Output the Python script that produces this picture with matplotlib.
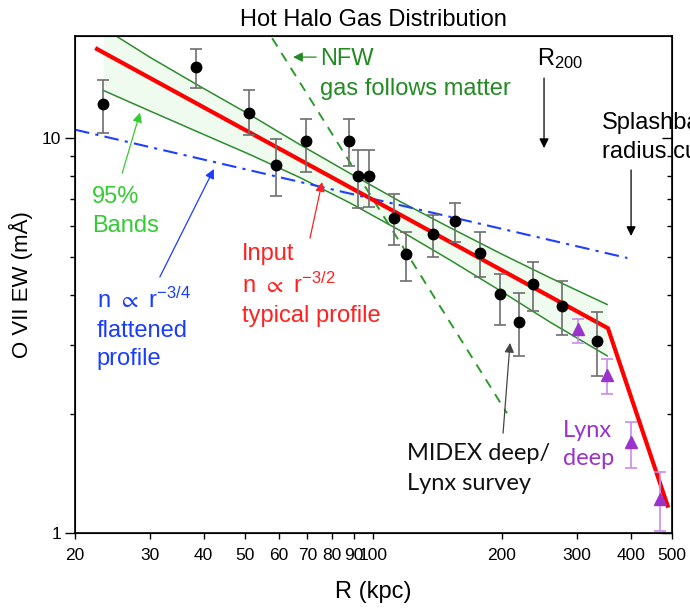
import matplotlib.pyplot as plt
from matplotlib.ticker import FixedLocator, NullFormatter, NullLocator

plt.rcParams['font.family'] = ['Liberation Sans', 'DejaVu Sans']
plt.rcParams['mathtext.fontset'] = 'custom'
plt.rcParams['mathtext.rm'] = 'Liberation Sans'
plt.rcParams['mathtext.default'] = 'regular'
plt.rcParams['mathtext.fallback'] = 'stixsans'

# black points (MIDEX deep / Lynx survey), R in kpc, EW in mA
obs_r  = [23.3, 38.4, 51.1, 59.1, 69.5, 87.6, 92.0, 97.6, 111.7, 119.2,
          137.9, 155.2, 177.7, 197.8, 219.0, 236.4, 276.4, 333.9]
obs_ew = [12.2, 15.1, 11.6, 8.54, 9.83, 9.83, 8.01, 8.01, 6.27, 5.09,
          5.71, 6.17, 5.12, 4.03, 3.42, 4.27, 3.76, 3.06]
obs_hi = [14.0, 16.8, 13.2, 9.94, 11.2, 11.2, 9.32, 9.32, 7.21, 5.78,
          6.38, 6.84, 5.78, 4.53, 4.05, 4.86, 4.35, 3.63]
obs_lo = [10.3, 13.4, 10.2, 7.13, 8.20, 8.49, 6.65, 6.69, 5.36, 4.35,
          5.00, 5.45, 4.45, 3.36, 2.81, 3.65, 3.17, 2.50]

# purple triangles (Lynx deep)
lynx_r  = [301, 352, 401, 469]
lynx_ew = [3.29, 2.51, 1.70, 1.22]
lynx_hi = [3.48, 2.76, 1.91, 1.43]
lynx_lo = [3.03, 2.25, 1.46, 1.01]

# input profile n ~ r^-3/2 with splashback cut
input_r  = [22.3, 354, 490]
input_ew = [16.9, 3.30, 1.16]

# 95% bands
band_r  = [23.3, 30.0, 39.3, 51.4, 67.3, 88.1, 115.4, 151.1, 197.8, 259.0, 352.4]
band_hi = [19.0, 16.0, 13.5, 11.45, 9.62, 8.14, 6.91, 5.93, 5.11, 4.43, 3.79]
band_lo = [13.2, 11.7, 10.3, 9.08, 7.94, 6.85, 5.83, 4.91, 4.11, 3.42, 2.81]

# flattened profile n ~ r^-3/4
flat_r  = [20, 393]
flat_ew = [10.5, 4.97]

# NFW, gas follows matter
nfw_r  = [57.9, 205.4]
nfw_ew = [17.9, 2.01]

xticks = [20, 30, 40, 50, 60, 70, 80, 90, 100, 200, 300, 400, 500]
yminor = [2, 3, 4, 5, 6, 7, 8, 9]

fig = plt.figure(figsize=(6.9, 6.11), dpi=100)
ax = fig.add_axes([0.1087, 0.1276, 0.8652, 0.8135])
ax.set_xscale('log')
ax.set_yscale('log')

ax.fill_between(band_r, band_lo, band_hi, color='#effbef', lw=0, zorder=1)
ax.plot(band_r, band_hi, color='#2e8b2e', lw=1.1, zorder=2)
ax.plot(band_r, band_lo, color='#2e8b2e', lw=1.1, zorder=2)
ax.plot(flat_r, flat_ew, color='#1f3fff', lw=1.5, ls=(0, (7, 3, 1.5, 3)), zorder=3)
ax.plot(nfw_r, nfw_ew, color='#2e9a2e', lw=1.4, ls=(0, (5, 4)), zorder=3)
ax.plot(input_r, input_ew, color='#ff0000', lw=3, zorder=4, solid_capstyle='butt')

ax.errorbar(obs_r, obs_ew,
            yerr=[[e - l for e, l in zip(obs_ew, obs_lo)], [h - e for e, h in zip(obs_ew, obs_hi)]],
            fmt='o', color='black', ms=7.5, ecolor='#6e6e6e', elinewidth=1.2,
            capsize=4, capthick=1.2, zorder=6)
ax.errorbar(lynx_r, lynx_ew,
            yerr=[[e - l for e, l in zip(lynx_ew, lynx_lo)], [h - e for e, h in zip(lynx_ew, lynx_hi)]],
            fmt='^', color='#9933cc', ms=9, ecolor='#c98ee8', elinewidth=1.2,
            capsize=4, capthick=1.2, zorder=6)

ax.set_xlim(20, 500)
ax.set_ylim(1, 18.13)

ax.xaxis.set_major_locator(FixedLocator(xticks))
ax.set_xticklabels([str(t) for t in xticks])
ax.xaxis.set_minor_locator(NullLocator())
ax.set_yticks([1, 10], labels=['1', '10'])
ax.yaxis.set_minor_locator(FixedLocator(yminor))
ax.yaxis.set_minor_formatter(NullFormatter())
ax.tick_params(axis='x', direction='out', length=4, width=1, labelsize=12.5, pad=7)
ax.tick_params(axis='y', which='major', direction='out', length=7, width=1, labelsize=12.5, pad=3)
ax.tick_params(axis='y', which='minor', direction='out', length=3.5, width=1)
for s in ax.spines.values():
    s.set_linewidth(1.2)

ax2 = ax.twinx()
ax2.set_yscale('log')
ax2.set_ylim(1, 18.13)
ax2.set_yticks([1, 10])
ax2.yaxis.set_minor_locator(FixedLocator(yminor))
ax2.yaxis.set_minor_formatter(NullFormatter())
ax2.tick_params(axis='y', which='major', direction='in', length=7, width=1, labelright=False)
ax2.tick_params(axis='y', which='minor', direction='in', length=3.5, width=1)

ax.set_title('Hot Halo Gas Distribution', fontsize=17, pad=7)
ax.set_xlabel('R (kpc)', fontsize=17, labelpad=13)
ax.set_ylabel('O VII EW (mÅ)', fontsize=16, labelpad=6)

def arrow(x0, y0, x1, y1, color):
    ax.annotate('', xy=(x1, y1), xytext=(x0, y0),
                arrowprops=dict(arrowstyle='-|>', color=color, lw=0.9,
                                mutation_scale=14, shrinkA=0, shrinkB=0),
                zorder=7)

# NFW
ax.text(75, 15.3, 'NFW', color='#228b22', fontsize=17)
ax.text(75, 12.85, 'gas follows matter', color='#228b22', fontsize=17)
arrow(73.4, 16.03, 64.8, 16.03, '#228b22')

# R200 and splashback
ax.text(241.5, 15.3, 'R$_{200}$', color='black', fontsize=17)
arrow(250.8, 14.19, 250.8, 9.43, 'black')
ax.text(342.9, 10.54, 'Splashback', color='black', fontsize=17)
ax.text(342.9, 8.90, 'radius cut', color='black', fontsize=17)
arrow(401, 8.30, 401, 5.65, 'black')

# 95% bands
ax.text(21.9, 6.84, '95%', color='#33cc33', fontsize=17)
ax.text(21.9, 5.78, 'Bands', color='#33cc33', fontsize=17)
arrow(25.8, 8.15, 28.4, 11.6, '#33cc33')

# flattened profile
ax.text(22.5, 3.71, r'n $\propto$ r$^{-3/4}$', color='#1a3cff', fontsize=17)
ax.text(22.5, 3.13, 'flattened', color='#1a3cff', fontsize=17)
ax.text(22.5, 2.66, 'profile', color='#1a3cff', fontsize=17)
arrow(31.6, 4.45, 42.3, 8.35, '#1a3cff')

# input profile
ax.text(49.2, 4.91, 'Input', color='#ff2020', fontsize=17)
ax.text(49.2, 4.05, r'n $\propto$ r$^{-3/2}$', color='#ff2020', fontsize=17)
ax.text(49.2, 3.42, 'typical profile', color='#ff2020', fontsize=17)
arrow(71.0, 5.58, 75.8, 7.74, '#ff2020')

# MIDEX / Lynx
ax.text(119.8, 1.53, 'MIDEX deep/', color='#111111', fontsize=17, family=['Lato', 'DejaVu Sans'])
ax.text(119.8, 1.285, 'Lynx survey', color='#111111', fontsize=17, family=['Lato', 'DejaVu Sans'])
arrow(201.1, 1.79, 208.8, 3.03, '#444444')
ax.text(277.9, 1.75, 'Lynx', color='#9933cc', fontsize=17, family=['Lato', 'DejaVu Sans'])
ax.text(277.9, 1.49, 'deep', color='#9933cc', fontsize=17, family=['Lato', 'DejaVu Sans'])

fig.savefig('out.png', dpi=100)
